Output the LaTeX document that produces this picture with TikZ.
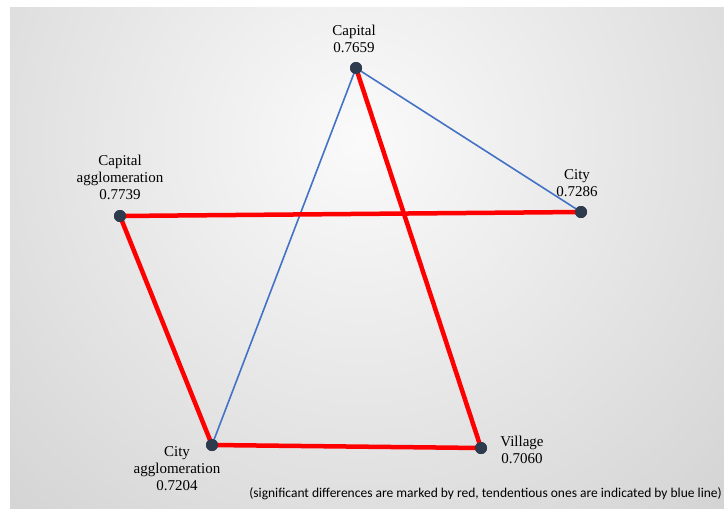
\documentclass[tikz,border=0pt]{standalone}
\usepackage{fontspec}
\setmainfont{Liberation Serif}
\newfontfamily\notefont{Carlito}
\definecolor{dotcol}{HTML}{2E3B4E}
\definecolor{sigred}{HTML}{FF0000}
\definecolor{tendblue}{HTML}{4472C4}
\definecolor{bginner}{HTML}{FAFAFA}
\definecolor{bgouter}{HTML}{B0B0B0}
\begin{document}
\begin{tikzpicture}[x=1pt,y=-1pt,
    dot/.style={circle,fill=dotcol,inner sep=0pt,minimum size=12pt},
    sig/.style={draw=sigred,line width=4.5pt},
    tend/.style={draw=tendblue,line width=1.6pt},
    lbl/.style={align=center,inner sep=0pt,font=\fontsize{15}{17}\selectfont}]
    \useasboundingbox (0,0) rectangle (724,509);
    \fill[white] (0,0) rectangle (724,509);
    \begin{scope}
        \clip (10,7) rectangle (724,509);
        \shade[inner color=bginner,outer color=bgouter] (360,140) circle (1000);
    \end{scope}
    \node[dot] (capital) at (356,68) {};
    \node[dot] (city) at (581,212) {};
    \node[dot] (capagg) at (120,216) {};
    \node[dot] (cityagg) at (212,445) {};
    \node[dot] (village) at (481,448) {};
    \draw[tend] (capital.center) -- (city.center);
    \draw[tend] (capital.center) -- (cityagg.center);
    \draw[sig] (capagg.center) -- (city.center);
    \draw[sig] (capagg.center) -- (cityagg.center);
    \draw[sig] (cityagg.center) -- (village.center);
    \draw[sig] (capital.center) -- (village.center);
    \node[dot] at (capital) {};
    \node[dot] at (city) {};
    \node[dot] at (capagg) {};
    \node[dot] at (cityagg) {};
    \node[dot] at (village) {};
    \node[lbl] (capitallbl) at (354,39) {Capital\\0.7659};
    \node[lbl] (capagglbl) at (120,177) {Capital\\agglomeration\\0.7739};
    \node[lbl] (citylbl) at (577,183) {City\\0.7286};
    \node[lbl] (cityagglbl) at (177,469) {City\\agglomeration\\0.7204};
    \node[lbl] (villagelbl) at (522,450) {Village\\0.7060};
    \node[anchor=east,inner sep=0pt,font=\notefont\fontsize{13.5}{15}\selectfont] (note) at (722,494)
        {(significant differences are marked by red, tendentious ones are indicated by blue line)};
\end{tikzpicture}
\end{document}
